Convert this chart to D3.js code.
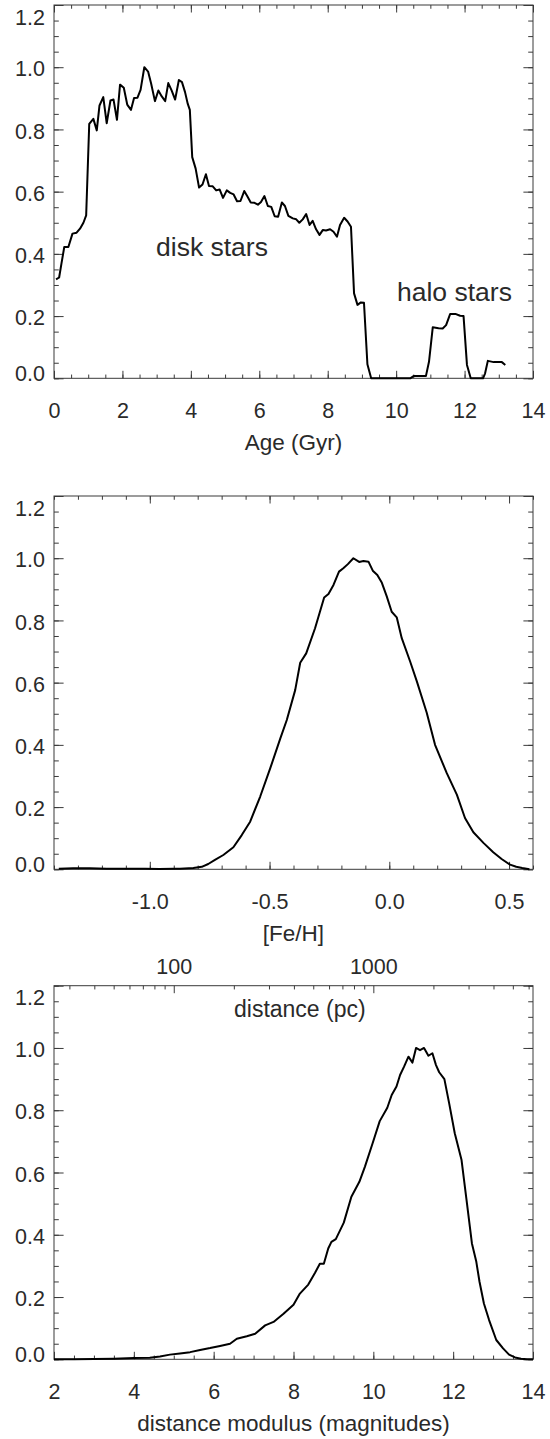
<!DOCTYPE html>
<html><head><meta charset="utf-8">
<script src="https://cdn.jsdelivr.net/npm/d3@7"></script>
<style>body{margin:0;background:#fff}svg{display:block}</style>
</head><body><svg id="c" width="550" height="1439"></svg>
<script>
// ---------- data ----------
const ageData = [[0.06,0.318],[0.15,0.324],[0.22,0.37],[0.30,0.422],[0.42,0.422],[0.54,0.465],[0.66,0.468],[0.76,0.481],[0.86,0.50],[0.94,0.524],[1.03,0.818],[1.15,0.834],[1.25,0.797],[1.33,0.877],[1.44,0.904],[1.54,0.820],[1.65,0.893],[1.74,0.896],[1.84,0.831],[1.93,0.944],[2.04,0.934],[2.14,0.880],[2.25,0.863],[2.34,0.901],[2.44,0.902],[2.53,0.927],[2.64,1.0],[2.75,0.986],[2.84,0.947],[2.95,0.891],[3.05,0.925],[3.15,0.906],[3.25,0.891],[3.34,0.949],[3.44,0.925],[3.54,0.896],[3.65,0.959],[3.74,0.952],[3.83,0.920],[3.91,0.882],[3.97,0.863],[4.04,0.711],[4.14,0.674],[4.24,0.613],[4.34,0.623],[4.44,0.656],[4.53,0.618],[4.64,0.617],[4.74,0.604],[4.84,0.607],[4.94,0.580],[5.05,0.604],[5.15,0.596],[5.25,0.591],[5.35,0.569],[5.45,0.570],[5.56,0.602],[5.65,0.585],[5.75,0.565],[5.86,0.564],[5.96,0.558],[6.05,0.567],[6.15,0.586],[6.25,0.554],[6.35,0.551],[6.45,0.521],[6.55,0.519],[6.66,0.565],[6.75,0.554],[6.85,0.522],[6.98,0.514],[7.08,0.511],[7.17,0.500],[7.27,0.511],[7.37,0.528],[7.47,0.493],[7.56,0.506],[7.66,0.479],[7.76,0.461],[7.86,0.477],[7.95,0.475],[8.07,0.479],[8.17,0.471],[8.27,0.455],[8.36,0.493],[8.48,0.516],[8.58,0.504],[8.68,0.487],[8.77,0.273],[8.87,0.236],[8.97,0.244],[9.06,0.243],[9.16,0.045],[9.27,0],[9.6,0],[10.0,0],[10.41,0],[10.51,0.007],[10.87,0.007],[10.96,0.053],[11.07,0.164],[11.24,0.161],[11.36,0.160],[11.46,0.171],[11.58,0.207],[11.73,0.207],[11.87,0.201],[11.97,0.200],[12.07,0.043],[12.18,0],[12.54,0],[12.60,0.016],[12.68,0.056],[12.85,0.052],[13.09,0.052],[13.19,0.043]];

const fehData = [[-1.38,0.002],[-1.32,0.003],[-1.25,0.003],[-1.18,0.002],[-1.10,0.002],[-1.02,0.002],[-0.96,0.001],[-0.90,0.002],[-0.874,0.002],[-0.818,0.004],[-0.783,0.008],[-0.756,0.017],[-0.728,0.030],[-0.693,0.046],[-0.651,0.071],[-0.616,0.110],[-0.581,0.153],[-0.539,0.234],[-0.497,0.325],[-0.455,0.421],[-0.428,0.480],[-0.393,0.576],[-0.372,0.664],[-0.347,0.694],[-0.310,0.775],[-0.272,0.874],[-0.254,0.885],[-0.233,0.914],[-0.210,0.957],[-0.192,0.968],[-0.173,0.981],[-0.150,1.0],[-0.126,0.988],[-0.108,0.991],[-0.087,0.989],[-0.069,0.960],[-0.050,0.946],[-0.031,0.921],[-0.011,0.878],[0.010,0.828],[0.031,0.810],[0.052,0.743],[0.087,0.668],[0.115,0.604],[0.156,0.504],[0.191,0.400],[0.240,0.309],[0.282,0.240],[0.316,0.165],[0.351,0.119],[0.393,0.085],[0.434,0.055],[0.469,0.033],[0.504,0.015],[0.530,0.008],[0.555,0.004],[0.585,0.0]];

const modData = [[2.0,0.0],[2.5,0.0],[3.0,0.001],[3.5,0.002],[4.0,0.004],[4.4,0.005],[4.655,0.009],[4.905,0.015],[5.156,0.019],[5.41,0.023],[5.66,0.030],[5.91,0.036],[6.16,0.043],[6.41,0.050],[6.58,0.066],[6.83,0.074],[7.04,0.082],[7.29,0.109],[7.50,0.120],[7.75,0.146],[8.00,0.175],[8.16,0.211],[8.37,0.240],[8.54,0.278],[8.66,0.307],[8.76,0.307],[8.87,0.356],[8.95,0.377],[9.06,0.386],[9.26,0.439],[9.45,0.522],[9.65,0.570],[9.79,0.619],[9.98,0.693],[10.16,0.765],[10.35,0.808],[10.46,0.849],[10.58,0.876],[10.67,0.913],[10.77,0.940],[10.88,0.972],[10.98,0.953],[11.07,1.0],[11.17,0.993],[11.27,1.0],[11.38,0.975],[11.48,0.983],[11.57,0.945],[11.65,0.922],[11.78,0.900],[11.90,0.822],[12.04,0.726],[12.21,0.640],[12.33,0.517],[12.47,0.372],[12.58,0.313],[12.66,0.249],[12.77,0.179],[12.90,0.126],[13.08,0.062],[13.25,0.035],[13.40,0.015],[13.55,0.006],[13.70,0.002],[13.85,0.0],[14.0,0.0]];

const yTicks = [0, 0.2, 0.4, 0.6, 0.8, 1.0, 1.2];
const yLabels = ["0.0","0.2","0.4","0.6","0.8","1.0","1.2"];
const ageTicks = [0,2,4,6,8,10,12,14];
const ageLabels = ["0","2","4","6","8","10","12","14"];
const fehTicks = [-1.0,-0.5,0.0,0.5];
const fehLabels = ["-1.0","-0.5","0.0","0.5"];
const modTicks = [2,4,6,8,10,12,14];
const modLabels = ["2","4","6","8","10","12","14"];
const distTicks = [100,1000];
const distLabels = ["100","1000"];
const distMinor = [30,40,50,60,70,80,90,200,300,400,500,600,700,800,900,2000,3000,4000,5000,6000];

// ---------- layout ----------
const FONT = "'Liberation Sans', Arial, Helvetica, sans-serif";
const AX = "#3a3a3a", TXT = "#2a2a2a";
const FL = 54, FR = 533;
const svg = d3.select("#c");

function styleAxis(g){
  g.select(".domain").remove();
  g.selectAll("line").attr("stroke", AX).attr("stroke-width", 1);
  g.attr("font-family", FONT).attr("font-size", 21.5);
  g.selectAll("text").attr("fill", TXT);
}

function panel(cfg){
  const g = svg.append("g");
  const x = d3.scaleLinear().domain(cfg.xDomain).range([FL, FR]);
  const y = d3.scaleLinear().domain([0, 1.2]).range([cfg.bottom, cfg.top]);
  const yMinor = d3.range(0, 1.2001, 0.05);

  g.append("g").attr("transform", `translate(${FL},0)`)
    .call(d3.axisLeft(y).tickValues(yMinor).tickSize(-4.8).tickFormat("")).call(styleAxis);
  g.append("g").attr("transform", `translate(${FR},0)`)
    .call(d3.axisRight(y).tickValues(yMinor).tickSize(-4.8).tickFormat("")).call(styleAxis);
  g.append("g").attr("transform", `translate(${FR},0)`)
    .call(d3.axisRight(y).tickValues(yTicks).tickSize(-9.6).tickFormat("")).call(styleAxis);
  const yl = g.append("g").attr("transform", `translate(${FL},0)`)
    .call(d3.axisLeft(y).tickValues(yTicks).tickSize(-9.6).tickPadding(9)
      .tickFormat((d,i)=>yLabels[i])).call(styleAxis);
  yl.selectAll("text").attr("dy", "0.36em").attr("y", d => {
    const p = y(d);
    if (p <= cfg.top + 1) return 11.3;
    if (p >= cfg.bottom - 1) return -6;
    return 1;
  });

  g.append("g").attr("transform", `translate(0,${cfg.bottom})`)
    .call(d3.axisBottom(x).tickValues(cfg.xMinor).tickSize(-3.75).tickFormat("")).call(styleAxis);
  const xb = g.append("g").attr("transform", `translate(0,${cfg.bottom})`)
    .call(d3.axisBottom(x).tickValues(cfg.xTicks).tickSize(-7.5).tickPadding(32)
      .tickFormat((d,i)=>cfg.xLabels[i])).call(styleAxis);
  xb.selectAll("text").attr("dy", "0.36em");

  if (!cfg.customTop) {
    g.append("g").attr("transform", `translate(0,${cfg.top})`)
      .call(d3.axisTop(x).tickValues(cfg.xMinor).tickSize(-3.75).tickFormat("")).call(styleAxis);
    g.append("g").attr("transform", `translate(0,${cfg.top})`)
      .call(d3.axisTop(x).tickValues(cfg.xTicks).tickSize(-7.5).tickFormat("")).call(styleAxis);
  } else {
    cfg.customTop(g, cfg);
  }

  g.append("rect").attr("x", FL).attr("y", cfg.top)
    .attr("width", FR - FL).attr("height", cfg.bottom - cfg.top)
    .attr("fill", "none").attr("stroke", AX).attr("stroke-width", 1);

  g.append("path").datum(cfg.data)
    .attr("fill", "none").attr("stroke", "#000").attr("stroke-width", 2)
    .attr("stroke-linejoin", "round")
    .attr("d", d3.line().x(d => x(d[0])).y(d => y(d[1])));

  g.append("text").attr("x", (FL + FR) / 2).attr("y", cfg.bottom + 72)
    .attr("text-anchor", "middle").attr("font-family", FONT).attr("font-size", 22.5)
    .attr("fill", TXT).text(cfg.title);
  return {g, x, y};
}

const p1 = panel({top: 5, bottom: 378.3, xDomain: [0, 14], xTicks: ageTicks, xLabels: ageLabels,
  xMinor: d3.range(0, 14.001, 0.5), data: ageData, title: "Age (Gyr)"});
p1.g.append("text").attr("x", 156).attr("y", 256).attr("font-family", FONT).attr("font-size", 26.5)
  .attr("fill", TXT).text("disk stars");
p1.g.append("text").attr("x", 397).attr("y", 300.7).attr("font-family", FONT).attr("font-size", 26.5)
  .attr("fill", TXT).text("halo stars");

panel({top: 496, bottom: 869.3, xDomain: [-1.4, 0.6], xTicks: fehTicks, xLabels: fehLabels,
  xMinor: d3.range(-1.4, 0.6001, 0.1), data: fehData, title: "[Fe/H]"});

const p3 = panel({top: 985.7, bottom: 1359.3, xDomain: [2, 14], xTicks: modTicks, xLabels: modLabels,
  xMinor: d3.range(2, 14.001, 0.5), data: modData, title: "distance modulus (magnitudes)",
  customTop: (g, cfg) => {
    const xd = d3.scaleLog().domain([Math.pow(10, (2 + 5) / 5), Math.pow(10, (14 + 5) / 5)]).range([FL, FR]);
    g.append("g").attr("transform", `translate(0,${cfg.top})`)
      .call(d3.axisTop(xd).tickValues(distMinor).tickSize(-3.75).tickFormat("")).call(styleAxis);
    g.append("g").attr("transform", `translate(0,${cfg.top})`)
      .call(d3.axisTop(xd).tickValues(distTicks).tickSize(-7.5).tickPadding(12)
        .tickFormat((d,i)=>distLabels[i])).call(styleAxis);
  }});
p3.g.append("text").attr("x", 234).attr("y", 1016.7).attr("font-family", FONT).attr("font-size", 23)
  .attr("fill", TXT).text("distance (pc)");
</script>
</body></html>
